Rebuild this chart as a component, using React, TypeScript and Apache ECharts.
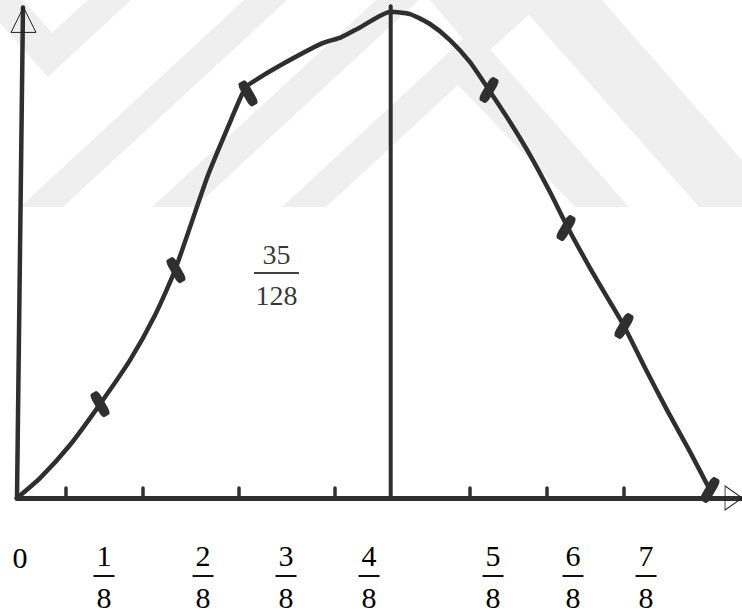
import React, { useEffect, useRef } from "react";
import * as echarts from "echarts";

// Horizontal positions are fractions of the unit interval (the tall line sits at 4/8),
// vertical positions are probabilities; the peak is 35/128.
const peakY = 35 / 128;

const curveX = [
  0, 0.0308, 0.0709, 0.1111, 0.1512, 0.1846, 0.2114, 0.2555, 0.2877, 0.305,
  0.3144, 0.3572, 0.4081, 0.4335, 0.4589, 0.5, 0.5258, 0.5526, 0.5793, 0.6061,
  0.6315, 0.6596, 0.6864, 0.7131, 0.7372, 0.7667, 0.7934, 0.8121, 0.8403, 0.871,
  0.9005, 0.9272,
];
const curveY = [
  0, 0.0112, 0.0298, 0.0528, 0.0775, 0.1028, 0.1281, 0.1815, 0.214, 0.2303,
  0.2337, 0.2444, 0.2556, 0.259, 0.2646, peakY, 0.2721, 0.2665, 0.2575, 0.2451,
  0.2294, 0.2114, 0.1928, 0.172, 0.1518, 0.1293, 0.1102, 0.0967, 0.0731, 0.0484,
  0.0259, 0.0045,
];

// tally strokes crossing the curve
const markX = [0.1111, 0.2127, 0.3091, 0.6315, 0.7346, 0.8121, 0.9272];
const markY = [0.0528, 0.1281, 0.2275, 0.2294, 0.1518, 0.0967, 0.0045];

// small ticks along the horizontal axis
const tickX = [0.0656, 0.1686, 0.297, 0.4255, 0.6061, 0.7091, 0.8121];

// fraction labels under the axis
const labelX = [0.004, 0.1164, 0.2489, 0.3599, 0.471, 0.6369, 0.7439, 0.8416];
const labelNum = ["0", "1", "2", "3", "4", "5", "6", "7"];
const labelDen = ["", "8", "8", "8", "8", "8", "8", "8"];

// vertical line at 4/8 and the hand-drawn vertical axis
const midX = 0.5;
const midTop = 0.2765;
const yAxisFoot = [0, 0];
const yAxisHead = [0.008, 0.2758];

// value written inside the area
const areaNum = "35";
const areaDen = "128";
const areaPos = [0.3472, 0.1248];

const INK = "#2f2f2f";
const SERIF = "'Liberation Serif', 'Times New Roman', serif";

const App: React.FC = () => {
  const ref = useRef<HTMLDivElement>(null);

  useEffect(() => {
    if (!ref.current) return;
    const chart = echarts.init(ref.current, undefined, { renderer: "svg" });

    const curve = curveX.map((x, i) => [x, curveY[i]]);
    const marks = markX.map((x, i) => ({
      value: [x, markY[i]],
      symbolRotate: x < midX ? 30 : -30,
    }));

    const wm = "#efefef";
    const band = (pts: number[][]) => ({
      type: "polygon",
      silent: true,
      z: 0,
      shape: { points: pts },
      style: { fill: wm },
    });

    chart.setOption({
      animation: false,
      backgroundColor: "#ffffff",
      graphic: {
        elements: [
          band([[0, 0], [23, 0], [52, 33], [88, 0], [131, 0], [48, 77], [0, 23]]),
          band([[20, 207], [63, 207], [287, 0], [244, 0]]),
          band([[152, 207], [195, 207], [419, 0], [376, 0]]),
          band([[282, 207], [473, 30], [629, 207], [575, 207], [458, 85], [326, 207]]),
          band([[430, 0], [602, 0], [742, 160], [742, 207], [699, 207], [529, 15], [480, 59]]),
        ],
      },
      grid: {
        left: 17,
        right: 0,
        top: 0,
        bottom: 117,
        containLabel: false,
        outerBoundsMode: "none",
      },
      xAxis: {
        type: "value",
        min: 0,
        max: 0.97,
        splitLine: { show: false },
        axisLine: { show: true, onZero: false, lineStyle: { color: INK, width: 5 } },
        axisTick: {
          show: true,
          inside: true,
          length: 10,
          customValues: tickX,
          lineStyle: { color: INK, width: 3.5, cap: "round" },
        },
        axisLabel: {
          show: true,
          customValues: labelX,
          margin: 43,
          color: "#000",
          fontFamily: SERIF,
          hideOverlap: false,
          formatter: (v: number) => {
            let i = 0;
            labelX.forEach((lx, k) => {
              if (Math.abs(lx - v) < Math.abs(labelX[i] - v)) i = k;
            });
            if (!labelDen[i]) return `{z|${labelNum[i]}}`;
            return `{n|${labelNum[i]}}\n{bar| }\n{d|${labelDen[i]}}`;
          },
          rich: {
            z: { fontFamily: SERIF, fontSize: 30, lineHeight: 32, color: "#000" },
            n: { fontFamily: SERIF, fontSize: 30, lineHeight: 28, color: "#000" },
            bar: { width: 21, height: 2, lineHeight: 14, fontSize: 1, backgroundColor: "#111" },
            d: { fontFamily: SERIF, fontSize: 30, lineHeight: 28, color: "#000" },
          },
        },
      },
      yAxis: {
        type: "value",
        min: 0,
        max: 0.28,
        axisLine: { show: false },
        axisTick: { show: false },
        axisLabel: { show: false },
        splitLine: { show: false },
      },
      series: [
        {
          type: "line",
          data: [yAxisFoot, yAxisHead],
          showSymbol: false,
          lineStyle: { color: INK, width: 4.5, cap: "round" },
          z: 3,
        },
        {
          type: "line",
          data: [[midX, 0], [midX, midTop]],
          showSymbol: false,
          lineStyle: { color: INK, width: 4, cap: "round" },
          z: 3,
        },
        {
          type: "line",
          data: curve,
          showSymbol: false,
          smooth: 0.2,
          lineStyle: { color: INK, width: 4.5, cap: "round", join: "round" },
          z: 4,
        },
        {
          type: "scatter",
          data: marks,
          symbol: "roundRect",
          symbolSize: [10, 27],
          itemStyle: { color: INK, opacity: 1 },
          z: 5,
        },
        {
          type: "scatter",
          data: [
            { value: [0.0087, 0.2688], symbolSize: [25, 25], symbolRotate: 0 },
            { value: [0.9587, 0], symbolSize: [24, 17], symbolRotate: -90 },
          ],
          symbol: "triangle",
          itemStyle: { color: "rgba(0,0,0,0)", borderColor: "#222", borderWidth: 1, opacity: 1 },
          z: 6,
        },
        {
          type: "scatter",
          data: [areaPos],
          symbolSize: 1,
          itemStyle: { color: "rgba(0,0,0,0)" },
          label: {
            show: true,
            position: "inside",
            color: "#000",
            formatter: `{n|${areaNum}}\n{bar| }\n{d|${areaDen}}`,
            rich: {
              n: { fontFamily: SERIF, fontSize: 28, lineHeight: 36, color: "#000" },
              bar: { width: 45, height: 2, lineHeight: 2, fontSize: 1, backgroundColor: "#111" },
              d: { fontFamily: SERIF, fontSize: 28, lineHeight: 42, color: "#000" },
            },
          },
          z: 6,
        },
      ],
    });

    return () => chart.dispose();
  }, []);

  return (
    <div
      ref={ref}
      style={{ position: "fixed", left: 0, top: 0, width: 742, height: 615, background: "#fff" }}
    />
  );
};

export default App;
